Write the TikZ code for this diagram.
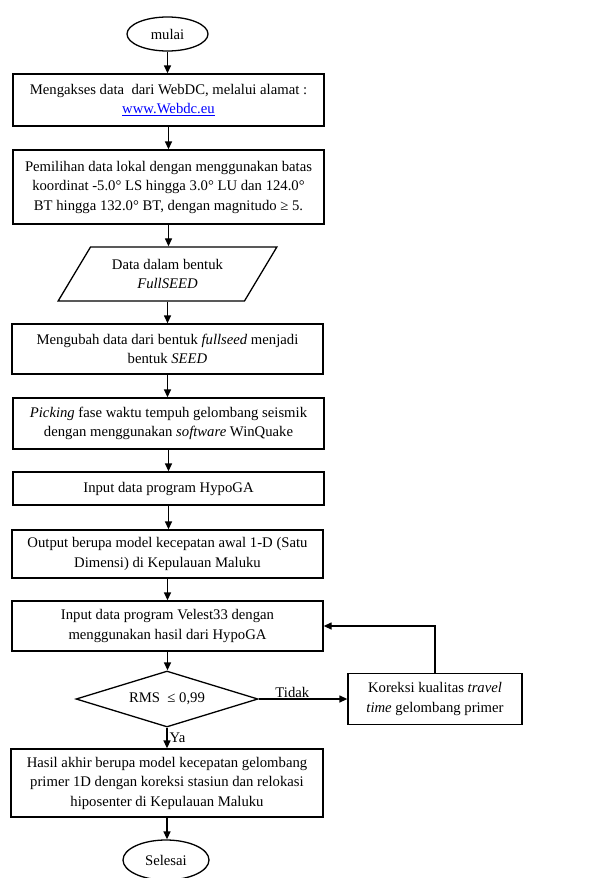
\documentclass[tikz,border=0pt]{standalone}
\usepackage{fontspec}
\setmainfont{Liberation Serif}
\usepackage{xcolor}
\usetikzlibrary{arrows.meta,shapes.geometric}
\definecolor{linkblue}{RGB}{0,0,255}
\tikzset{
  every node/.style={font=\fontsize{14.7}{19.5}\selectfont},
  procbox/.style={draw, align=center, minimum width=311pt, inner sep=2pt},
  termnode/.style={draw, ellipse, inner sep=0pt, minimum width=81pt, minimum height=34pt},
  iobox/.style={draw, trapezium, trapezium left angle=52, trapezium right angle=128,
    trapezium stretches=true, align=center, inner sep=0pt, minimum width=219pt, minimum height=54pt},
  decision/.style={draw, diamond, aspect=3.25, inner sep=0pt, minimum width=182pt, minimum height=56pt}
}

\begin{document}
\begin{tikzpicture}[x=1pt, y=-1pt, line width=1.3pt, >={Triangle[length=8pt,width=7pt]}]
    \useasboundingbox (0,0) rectangle (596,878);
    % Flow steps
    \node[termnode] (mulai) at (167.5,34) {mulai};
    \node[procbox, minimum height=52pt] (akses) at (168.5,100)
        {Mengakses data\ \ dari WebDC, melalui alamat :\\ \textcolor{linkblue}{\underline{www.Webdc.eu}}};
    \node[procbox, minimum height=74pt] (pilih) at (168.5,187)
        {Pemilihan data lokal dengan menggunakan batas\\ koordinat -5.0° LS hingga 3.0° LU dan 124.0°\\ BT hingga 132.0° BT, dengan magnitudo ≥ 5.};
    \node[iobox] (data) at (167.5,274) {Data dalam bentuk\\ \textit{FullSEED}};
    \node[procbox, minimum height=50pt] (ubah) at (167.5,349)
        {Mengubah data dari bentuk \textit{fullseed} menjadi\\ bentuk \textit{SEED}};
    \node[procbox, minimum height=51pt] (picking) at (168.5,423.5)
        {\textit{Picking} fase waktu tempuh gelombang seismik\\ dengan menggunakan \textit{software} WinQuake};
    \node[procbox, minimum height=33pt] (hypo) at (168.5,488.5) {Input data program HypoGA};
    \node[procbox, minimum height=48pt] (model) at (167.5,554)
        {Output berupa model kecepatan awal 1-D (Satu\\ Dimensi) di Kepulauan Maluku};
    \node[procbox, minimum height=50pt] (velest) at (167.5,626)
        {Input data program Velest33 dengan\\ menggunakan hasil dari HypoGA};
    \node[decision] (rms) at (167,699) {RMS\ \ ≤ 0,99};
    \node[procbox, minimum width=174pt, minimum height=51pt] (koreksi) at (435,699)
        {Koreksi kualitas \textit{travel}\\ \textit{time} gelombang primer};
    \node[procbox, minimum width=312pt, minimum height=68pt] (hasil) at (167,783)
        {Hasil akhir berupa model kecepatan gelombang\\ primer 1D dengan koreksi stasiun dan relokasi\\ hiposenter di Kepulauan Maluku};
    \node[termnode, minimum width=86pt, minimum height=40pt] (selesai) at (166,860) {Selesai};
    % Main flow arrows
    \foreach \a/\b in {mulai/akses, akses/pilih, pilih/data, data/ubah, ubah/picking,
                       picking/hypo, hypo/model, model/velest, velest/rms, hasil/selesai} {
        \draw[->] (\a.south) -- (\a.south |- \b.north);
    }
    % Decision branches
    \draw[->] (rms.south) -- node[right, inner sep=2pt] {Ya} (rms.south |- hasil.north);
    \draw[->] (rms.east) -- node[above, pos=0.38, inner sep=1pt] {Tidak} (rms.east -| koreksi.west);
    \draw[->] (koreksi.north) |- (velest.east);
\end{tikzpicture}
\end{document}
